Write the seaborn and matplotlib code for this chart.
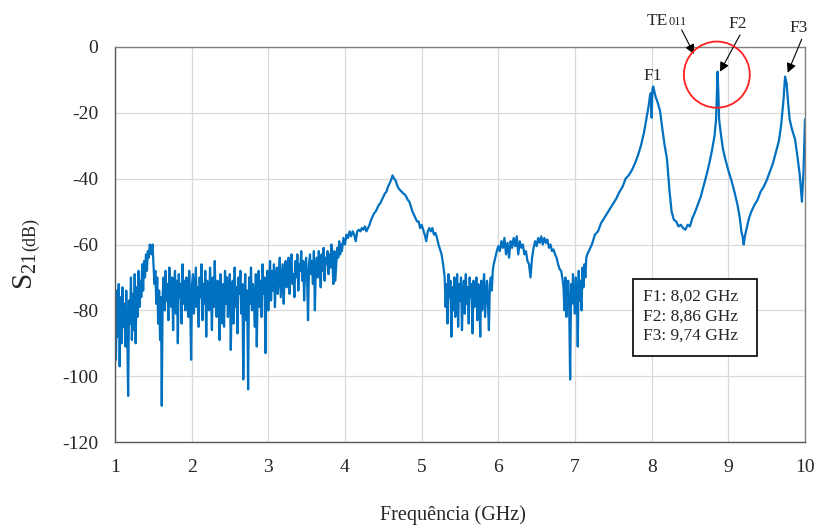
import numpy as np
import pandas as pd
import seaborn as sns
import matplotlib.pyplot as plt
from matplotlib.patches import Ellipse, Rectangle

# S21 trace, split into sweep segments
# (start GHz, stop GHz, dB values taken at even steps inside the segment)
seg1_db = [-80,
           -95, -74, -88, -72, -97, -76, -90, -73, -85, -78,
           -91, -74, -86, -106, -77, -84, -70, -89, -75, -86,
           -69, -90, -73, -82, -68, -79, -71, -76, -66, -74,
           -65, -70, -63, -68, -62, -64, -60, -61, -63, -60,
           -66, -72, -68, -78, -70, -84, -74, -89, -76]
seg2_db = [-109, -75, -70, -80, -68, -77, -72, -83, -67, -74,
           -79, -70, -86, -73, -68, -81, -71, -90, -69, -76,
           -72, -84, -66, -78, -71, -80, -70, -75, -82, -68,
           -77, -95, -72, -69, -81, -74, -67, -79, -73, -85,
           -70, -76, -66, -83, -72, -78, -68, -88, -71, -75,
           -80, -67, -74, -86, -70, -79, -65, -77, -82, -71,
           -73, -89, -69, -76, -84]
seg3_db = [-72, -85, -68, -78, -70, -82, -74, -69, -92, -76,
           -71, -84, -67, -79, -73, -87, -70, -75, -68, -81,
           -72, -101, -77, -69, -83, -74, -104, -70, -78, -67,
           -80, -72, -76, -85, -69, -91, -74, -68, -79, -71,
           -82, -66, -75, -70, -93, -73, -68, -80]
seg4_db = [-72, -65, -77, -68, -74, -66, -79, -70, -67, -75,
           -69, -64, -76, -71, -66, -78, -68, -65, -73, -70,
           -64, -75, -67, -63, -72, -69, -76, -65, -70, -63,
           -74, -66, -68, -62, -71, -65, -77, -67, -64, -70,
           -83, -66, -63, -69, -65, -72, -62, -80, -67, -64,
           -70, -62, -66, -73, -63, -68, -61, -71, -64, -66,
           -62, -69, -63, -67, -60, -65, -72, -62, -71, -66,
           -61, -64, -59, -63, -60]
seg5_db = [-62, -58, -60, -57, -58, -56, -57.5, -56, -57, -59,
           -56, -55.5, -56, -55, -55.5, -54.5, -56, -55, -54, -52.5,
           -51.5, -50.5, -50, -49, -48, -47.5, -46.5, -45.5, -44.5, -44,
           -42.5, -41.5, -40.5, -39, -40, -40.5, -42, -43, -43.5, -44,
           -44.5, -44.8, -45.5, -46.5, -47, -48.5, -50, -51, -52, -53,
           -53, -55, -54, -55.5, -57, -59, -56, -55, -56, -55,
           -57, -56.5, -58, -60, -61.5, -63, -66]
seg6_db = [-70, -79, -72, -84, -69, -76, -71, -88, -73, -80,
           -70, -82, -74, -69, -85, -72, -77, -70, -86, -75,
           -71, -81, -69, -78, -73, -84, -70, -76, -72, -87,
           -71, -79, -74, -70, -83, -72, -77, -88, -71, -80,
           -73, -69, -82, -75, -71, -78, -86, -72, -70, -74,
           -68, -66]
seg7_db = [-64, -62, -60.5, -62, -59, -61, -58, -63, -59.5, -64,
           -59, -61, -58, -60.5, -57.5, -63, -59, -61, -60, -63,
           -62, -65, -66, -70, -64, -61, -59, -60.5, -58, -59.5,
           -57.5, -60, -58, -59.5, -58.5, -61, -60, -62, -61.5, -63,
           -64, -66, -67.5, -68, -71]
seg8_db = [-73, -80, -70, -82, -75, -71, -79, -101, -72, -78,
           -69, -76, -81, -70, -74, -91, -68, -77, -71, -80,
           -67, -73, -66, -70, -64, -63]

segments = [(1.00, 1.60, seg1_db), (1.61, 2.40, seg2_db), (2.41, 3.00, seg3_db),
            (3.01, 3.95, seg4_db), (3.96, 5.28, seg5_db), (5.30, 5.94, seg6_db),
            (5.96, 6.84, seg7_db), (6.85, 7.16, seg8_db)]

# resonance part, read point by point
res_freq = [7.18, 7.22, 7.26, 7.30, 7.34, 7.38, 7.42, 7.46, 7.50, 7.54,
            7.58, 7.62, 7.66, 7.70, 7.74, 7.78, 7.82, 7.86, 7.90, 7.93,
            7.96, 7.98, 7.99, 8.00, 8.01, 8.02, 8.03, 8.05, 8.08, 8.11,
            8.14, 8.17, 8.20, 8.23, 8.26, 8.29, 8.32, 8.35, 8.38, 8.41,
            8.44, 8.47, 8.50, 8.53, 8.56, 8.60, 8.64, 8.68, 8.72, 8.76,
            8.79, 8.82, 8.84, 8.85, 8.86, 8.87, 8.88, 8.90, 8.93, 8.96,
            9.00, 9.04, 9.08, 9.12, 9.15, 9.17, 9.19, 9.20, 9.22, 9.24,
            9.27, 9.30, 9.34, 9.38, 9.42, 9.46, 9.50, 9.54, 9.58, 9.62,
            9.66, 9.69, 9.72, 9.74, 9.76, 9.78, 9.80, 9.83, 9.87, 9.90,
            9.93, 9.96, 9.98, 10.00]
res_db = [-62, -60, -57, -56, -53.5, -52, -50.5, -49, -47.5, -46,
          -44, -42.5, -40, -39, -37.5, -35.5, -33, -30, -26, -22,
          -18, -14.5, -14, -21.5, -13, -12, -13, -15, -17, -19.5,
          -25, -30, -34, -43, -50, -52.5, -53, -54.5, -54, -55,
          -55.5, -54, -54.5, -52, -50.5, -48, -45.5, -42, -38.5, -34.5,
          -31, -27, -22, -15, -7.5, -14, -22, -26, -31, -34,
          -37.5, -40.5, -44, -48, -52, -56, -58, -60, -57, -55,
          -52, -50, -48, -46.5, -44, -42.5, -40.5, -38, -35.5, -32,
          -28.5, -23.5, -16, -9, -11, -17, -22, -25, -28, -33,
          -38.5, -47, -38, -22]

freq = np.concatenate([np.linspace(a, b, len(v)) for a, b, v in segments] + [res_freq])
s21 = np.concatenate([np.array(v, dtype=float) for _, _, v in segments] + [res_db])
df = pd.DataFrame({'freq': freq, 's21': s21})

box_lines = ['F1: 8,02 GHz', 'F2: 8,86 GHz', 'F3: 9,74 GHz']

sns.set_style('white')
plt.rcParams['font.family'] = ['Liberation Serif', 'DejaVu Serif']
plt.rcParams['mathtext.fontset'] = 'custom'
plt.rcParams['mathtext.rm'] = 'Liberation Serif'
plt.rcParams['mathtext.it'] = 'Liberation Serif:italic'
plt.rcParams['axes.unicode_minus'] = False

fig = plt.figure(figsize=(8.19, 5.25), dpi=100)
ax = fig.add_axes([0.1404, 0.158, 0.8425, 0.7525])

sns.lineplot(data=df, x='freq', y='s21', estimator=None, sort=False,
             color='#0070C0', lw=1.6, ax=ax)

ax.set_xlim(1, 10)
ax.set_ylim(-120, 0)
ax.set_xticks(range(1, 11))
ax.set_yticks(range(-120, 1, 20))
ax.grid(True, color='#D9D9D9', lw=0.9)
ax.set_axisbelow(True)
for side in ['left', 'bottom', 'right', 'top']:
    ax.spines[side].set_visible(True)
    ax.spines[side].set_color('#808080')
    ax.spines[side].set_linewidth(1.0)
ax.spines['left'].set_color('#595959')
ax.spines['bottom'].set_color('#595959')
ax.tick_params(axis='both', direction='out', length=5, width=1, color='#808080',
               labelsize=14, pad=7)
ax.set_xlabel('')
ax.set_ylabel('')

# axis titles
fig.text(453 / 819, 1 - 520 / 525, 'Frequência (GHz)', ha='center', va='baseline', fontsize=14.5)
fig.text(33 / 819, 1 - 290 / 525, r'$\mathregular{S}_{21}$', rotation=90, rotation_mode='anchor',
         ha='left', va='baseline', fontsize=21)
fig.text(35 / 819, 1 - 251 / 525, '(dB)', rotation=90, rotation_mode='anchor',
         ha='left', va='baseline', fontsize=13)

# peak labels and arrows
arrow = dict(arrowstyle='-|>', color='black', lw=0.8, mutation_scale=14, shrinkA=0, shrinkB=0)
ax.text(8.02, -10.0, 'F1', ha='center', va='baseline', fontsize=12.5)
ax.text(9.12, 5.7, 'F2', ha='center', va='baseline', fontsize=12.5)
ax.text(9.912, 4.7, 'F3', ha='center', va='baseline', fontsize=12.5)
ax.text(8.217, 6.7, 'TE', ha='right', va='baseline', fontsize=12.5)
ax.text(8.217, 6.7, '011', ha='left', va='baseline', fontsize=9)
ax.annotate('', xy=(8.552, -2.13), xytext=(8.392, 5.2), arrowprops=arrow, annotation_clip=False)
ax.annotate('', xy=(8.891, -7.52), xytext=(9.152, 3.66), arrowprops=arrow, annotation_clip=False)
ax.annotate('', xy=(9.774, -7.83), xytext=(9.957, 2.35), arrowprops=arrow, annotation_clip=False)

ax.add_patch(Ellipse((8.85, -8.4), 0.86, 20.1, fill=False, ec='#FF1F1F', lw=1.3,
                     clip_on=False, zorder=5))

# frequency summary box
ax.add_patch(Rectangle((7.752, -93.8), 1.626, 23.35, fc='white', ec='black', lw=1.2, zorder=4))
ax.text(7.887, -81.8, '\n'.join(box_lines), ha='left', va='center', linespacing=1.3,
        fontsize=12.5, zorder=5)

fig.savefig('out.png', dpi=100)
